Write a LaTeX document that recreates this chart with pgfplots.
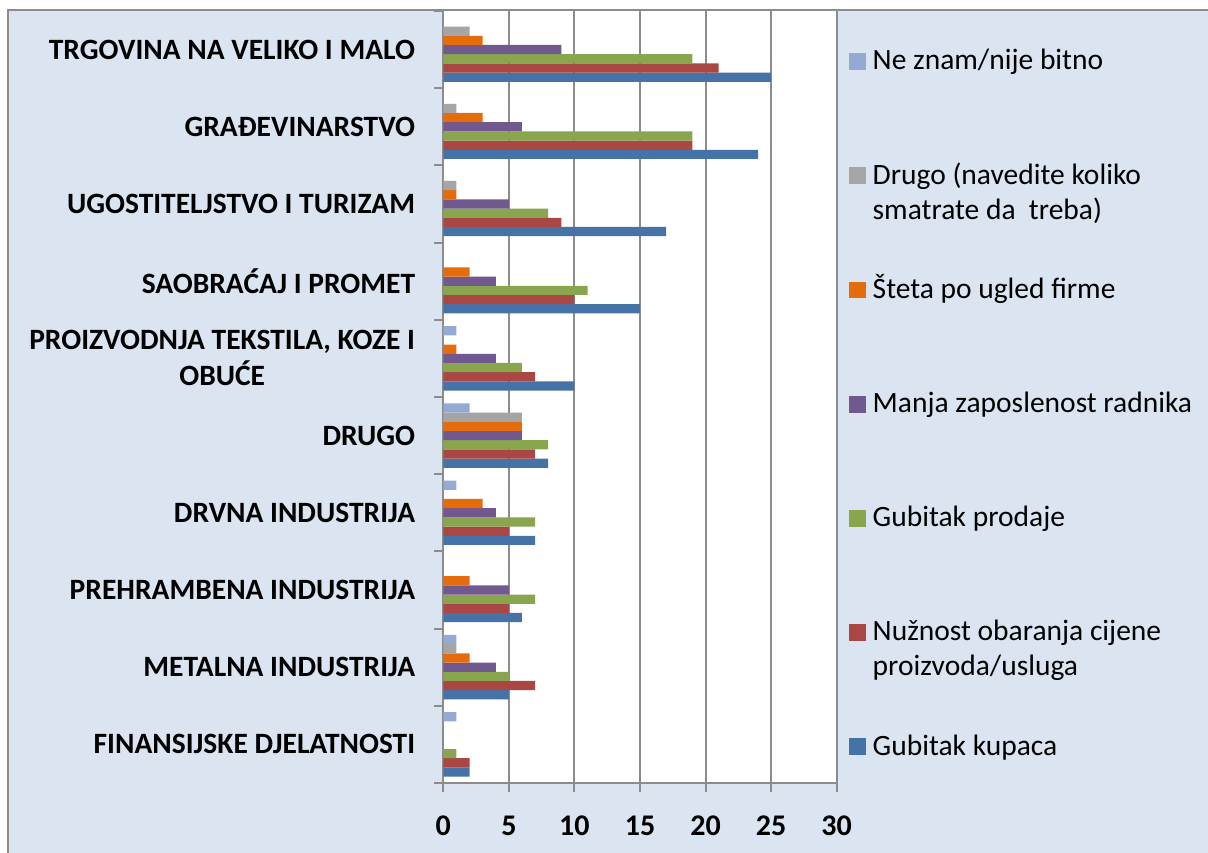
\documentclass[border=0pt]{standalone}
\usepackage{pgfplots}
\pgfplotsset{compat=1.18}
\usepackage{pgfplotstable}
\usepackage{fontspec}
\setmainfont{Carlito}
\definecolor{bgblue}{HTML}{DBE5F1}
\definecolor{framegray}{HTML}{8C8C8C}
\definecolor{cKup}{HTML}{4572A7}
\definecolor{cNuz}{HTML}{AA4643}
\definecolor{cPro}{HTML}{89A54E}
\definecolor{cMan}{HTML}{71588F}
\definecolor{cSte}{HTML}{E46C0A}
\definecolor{cDru}{HTML}{A5A5A5}
\definecolor{cNez}{HTML}{95AAD2}
\newcommand{\tl}[1]{\textbf{\fontsize{30}{30}\selectfont #1}}

% y: 0 = FINANSIJSKE DJELATNOSTI ... 9 = TRGOVINA NA VELIKO I MALO
\pgfplotstableread{
y nz dr st mz gp no gk
0 1 0 0 0 1 2 2
1 1 1 2 4 5 7 5
2 0 0 2 5 7 5 6
3 1 0 3 4 7 5 7
4 2 6 6 6 8 7 8
5 1 0 1 4 6 7 10
6 0 0 2 4 11 10 15
7 0 1 1 5 8 9 17
8 0 1 3 6 19 19 24
9 0 2 3 9 19 21 25
}\datatab

\begin{document}
\begin{tikzpicture}[x=1pt,y=1pt]
\useasboundingbox (0,0) rectangle (1208,852);
\fill[bgblue] (8,-5) rectangle (1215,841.5);
\draw[framegray, line width=2pt] (8,-5) -- (8,841.5) -- (1215,841.5);
\begin{axis}[
  at={(443.3pt,69pt)}, anchor=south west,
  scale only axis, width=393.4pt, height=772pt,
  xmin=0, xmax=30, ymin=-0.5, ymax=9.5,
  xbar=0pt, bar width=9.2pt,
  axis background/.style={fill=white},
  axis x line*=bottom, axis y line*=left,
  axis line style={framegray, line width=2.4pt},
  xmajorgrids, grid style={framegray, line width=2pt},
  xtick={0,5,...,30},
  xticklabels={\tl{0},\tl{5},\tl{10},\tl{15},\tl{20},\tl{25},\tl{30}},
  tick align=outside,
  major tick length=9pt,
  tick style={framegray, line width=2pt},
  ytick={-0.5,0.5,...,9.5},
  yticklabels={},
  extra y ticks={0,1,2,3,4,5,6,7,8,9},
  extra y tick labels={FINANSIJSKE DJELATNOSTI, METALNA INDUSTRIJA, PREHRAMBENA INDUSTRIJA, DRVNA INDUSTRIJA, DRUGO, {PROIZVODNJA TEKSTILA, KOZE I\\OBUĆE}, SAOBRAĆAJ I PROMET, UGOSTITELJSTVO I TURIZAM, GRAĐEVINARSTVO, TRGOVINA NA VELIKO I MALO},
  extra y tick style={major tick length=0pt, yticklabel style={font=\bfseries\fontsize{29.5}{36}\selectfont, align=center, anchor=east, inner sep=0pt, xshift=-28pt}},
  xticklabel style={font=\bfseries\fontsize{30}{30}\selectfont, anchor=base, inner sep=0pt, yshift=-43pt},
  reverse legend,
  legend style={at={(1.0313,0.9547)}, anchor=north west, draw=none, fill=none,
    inner sep=0pt, outer sep=0pt, row sep=30.2pt, column sep=7pt,
    nodes={inner sep=0pt, outer sep=0pt, text height=24pt, text depth=60pt},
    cells={anchor=base west},
    font=\fontsize{29.5}{35}\selectfont},
  legend image code/.code={\fill[#1] (0pt,0pt) rectangle (16.7pt,16.7pt);},
]
\addplot[fill=cKup, draw=none] table[x=gk, y=y] {\datatab};
\addplot[fill=cNuz, draw=none] table[x=no, y=y] {\datatab};
\addplot[fill=cPro, draw=none] table[x=gp, y=y] {\datatab};
\addplot[fill=cMan, draw=none] table[x=mz, y=y] {\datatab};
\addplot[fill=cSte, draw=none] table[x=st, y=y] {\datatab};
\addplot[fill=cDru, draw=none] table[x=dr, y=y] {\datatab};
\addplot[fill=cNez, draw=none] table[x=nz, y=y] {\datatab};
\legend{Gubitak kupaca,
  {\parbox[t]{330pt}{Nužnost obaranja cijene\\proizvoda/usluga}},
  Gubitak prodaje,
  Manja zaposlenost radnika,
  Šteta po ugled firme,
  {\parbox[t]{330pt}{Drugo (navedite koliko\\smatrate da\ \ treba)}},
  Ne znam/nije bitno}
\end{axis}
\end{tikzpicture}
\end{document}
